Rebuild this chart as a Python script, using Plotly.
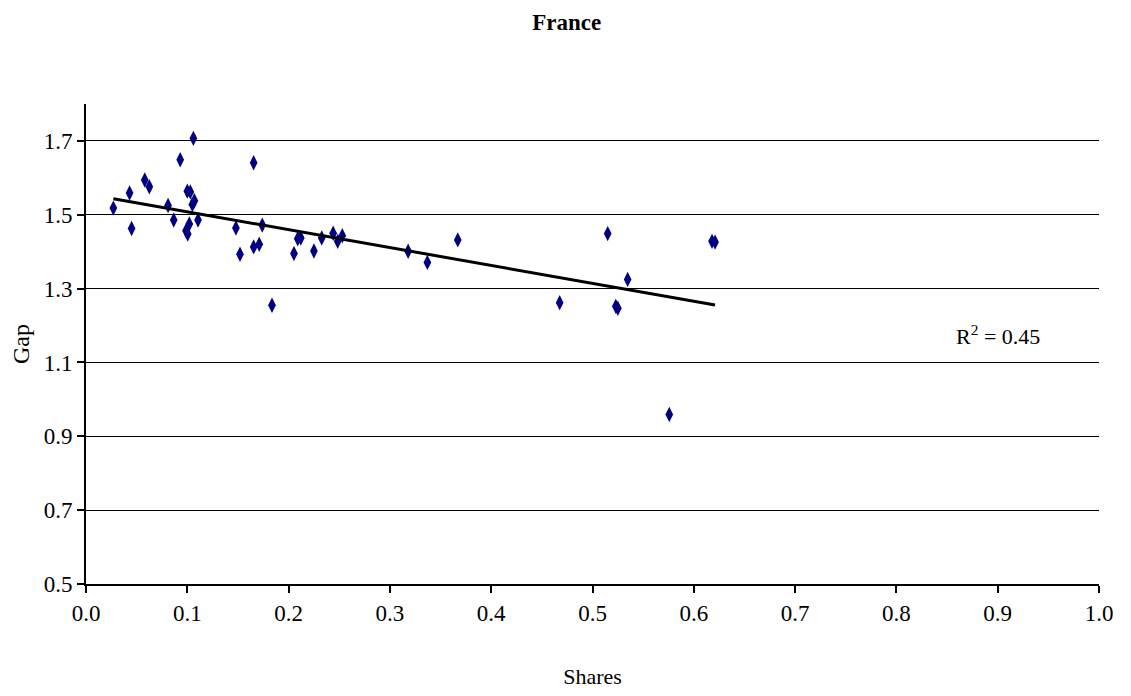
import numpy as np
import plotly.graph_objects as go

shares = [0.027, 0.043, 0.045, 0.058, 0.0625, 0.081, 0.0866, 0.093, 0.106, 0.100, 0.103,
          0.107, 0.105, 0.1106, 0.102, 0.0987, 0.1004, 0.148, 0.152, 0.1655, 0.1655, 0.171,
          0.174, 0.1836, 0.2053, 0.209, 0.212, 0.225, 0.2327, 0.244, 0.2485, 0.253, 0.318,
          0.337, 0.367, 0.4676, 0.515, 0.523, 0.525, 0.5347, 0.5758, 0.618, 0.621]
gap = [1.518, 1.559, 1.463, 1.594, 1.576, 1.525, 1.486, 1.649, 1.707, 1.564, 1.562,
       1.538, 1.528, 1.486, 1.475, 1.457, 1.448, 1.464, 1.393, 1.641, 1.413, 1.420,
       1.472, 1.255, 1.395, 1.435, 1.437, 1.402, 1.437, 1.450, 1.428, 1.443, 1.401,
       1.371, 1.432, 1.262, 1.449, 1.252, 1.247, 1.325, 0.959, 1.428, 1.426]

x_ticks = [round(0.1 * i, 1) for i in range(11)]
y_ticks = [0.5, 0.7, 0.9, 1.1, 1.3, 1.5, 1.7]
r2_label = "R<sup>2</sup> = 0.45"

xs = np.array(shares)
ys = np.array(gap)
slope, intercept = np.polyfit(xs, ys, 1)
xl = np.array([xs.min(), xs.max()])
yl = slope * xl + intercept

font = "Liberation Serif"

fig = go.Figure()
fig.add_trace(go.Scatter(x=shares, y=gap, mode="markers",
                         marker=dict(symbol="diamond-tall", size=11, color="#000080"),
                         showlegend=False))
fig.add_trace(go.Scatter(x=xl, y=yl, mode="lines",
                         line=dict(color="black", width=3), showlegend=False))

fig.add_annotation(x=0.90, y=1.175, xref="x", yref="y", showarrow=False,
                   text=r2_label, font=dict(family=font, size=22, color="black"))

fig.update_layout(
    width=1131, height=696,
    paper_bgcolor="white", plot_bgcolor="white",
    margin=dict(l=78, r=40, t=96, b=120),
    title=dict(text="<b>France</b>", x=0.494, xanchor="center", y=0.98, yanchor="middle",
               font=dict(family=font, size=23, color="black")),
    font=dict(family=font, size=23, color="black"),
)
fig.update_xaxes(range=[0, 1], tickvals=x_ticks, ticktext=[f"{v:.1f}" for v in x_ticks],
                 showgrid=False, zeroline=False, showline=True, linecolor="black", linewidth=2,
                 ticks="outside", ticklen=7, tickwidth=2, tickcolor="black",
                 tickfont=dict(family=font, size=23),
                 title=dict(text="Shares", standoff=44, font=dict(family=font, size=22)))
fig.update_yaxes(range=[0.5, 1.8], tickvals=y_ticks, ticktext=[f"{v:.1f}" for v in y_ticks],
                 showgrid=True, gridcolor="black", gridwidth=1, zeroline=False,
                 showline=True, linecolor="black", linewidth=2,
                 ticks="outside", ticklen=7, tickwidth=2, tickcolor="black",
                 tickfont=dict(family=font, size=23),
                 title=dict(text="Gap", standoff=8, font=dict(family=font, size=24)))

fig.write_html("out.html")
